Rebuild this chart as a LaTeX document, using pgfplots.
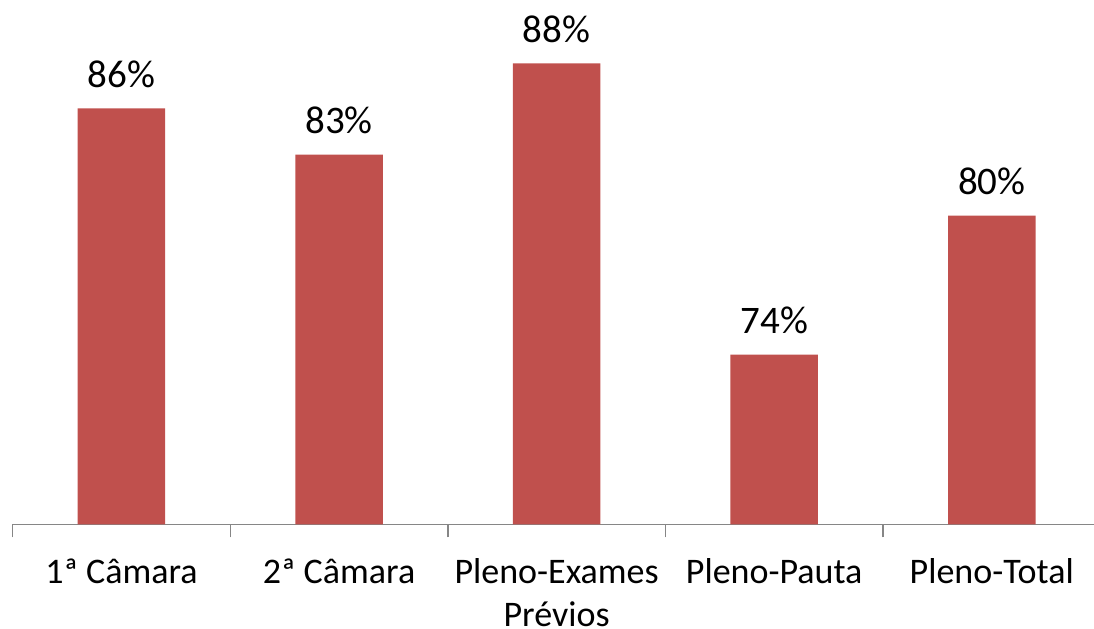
\documentclass[border=0pt]{standalone}
\usepackage{pgfplots}
\pgfplotsset{compat=1.18}
\usepackage{pgfplotstable}
\usepackage{fontspec}
\setmainfont{Carlito}

\definecolor{barred}{HTML}{C0504D}
\definecolor{axgray}{HTML}{868686}

% two centred lines, baseline on the first one
\newcommand{\twolines}[2]{\vtop{\halign{\hfil##\hfil\cr#1\cr#2\cr}}}

% x position, bar height, printed label
\pgfplotstableread{
x y lbl
0 85.78 86
1 83.48 83
2 88.03 88
3 73.48 74
4 80.43 80
}\datatable

\begin{document}
\begin{tikzpicture}
\begin{axis}[
    name=ax,
    scale only axis,
    width=540.65pt, height=262.25pt,
    xmin=-0.5, xmax=4.47,
    ymin=65, ymax=91.2,
    clip=false,
    axis x line*=bottom,
    axis y line=none,
    x axis line style={draw=axgray, line width=0.75pt, -},
    ytick=\empty,
    xtick={0,1,2,3,4},
    xticklabels={1ª Câmara, 2ª Câmara, {\twolines{Pleno-Exames}{Prévios}}, Pleno-Pauta, Pleno-Total},
    major x tick style={draw=none},
    minor xtick={-0.5,0.5,1.5,2.5,3.5},
    minor tick length=6.5pt,
    tick align=outside,
    minor x tick style={draw=axgray, line width=0.75pt},
    xticklabel style={font=\fontsize{18}{21.5}\selectfont, anchor=base, yshift=-25.25pt, text=black, inner ysep=0pt},
    ybar,
    bar width=43.75pt,
    nodes near coords={\pgfplotspointmeta\%},
    point meta=explicit symbolic,
    every node near coord/.append style={font=\fontsize{19.5}{23}\selectfont, anchor=base, yshift=10.5pt, text=black},
]
\addplot[fill=barred, draw=none] table[x=x, y=y, meta=lbl] {\datatable};
\end{axis}
\pgfresetboundingbox
\path[use as bounding box] ([xshift=-6.35pt,yshift=-52.25pt]ax.south west) rectangle (ax.north east);
\end{tikzpicture}
\end{document}
